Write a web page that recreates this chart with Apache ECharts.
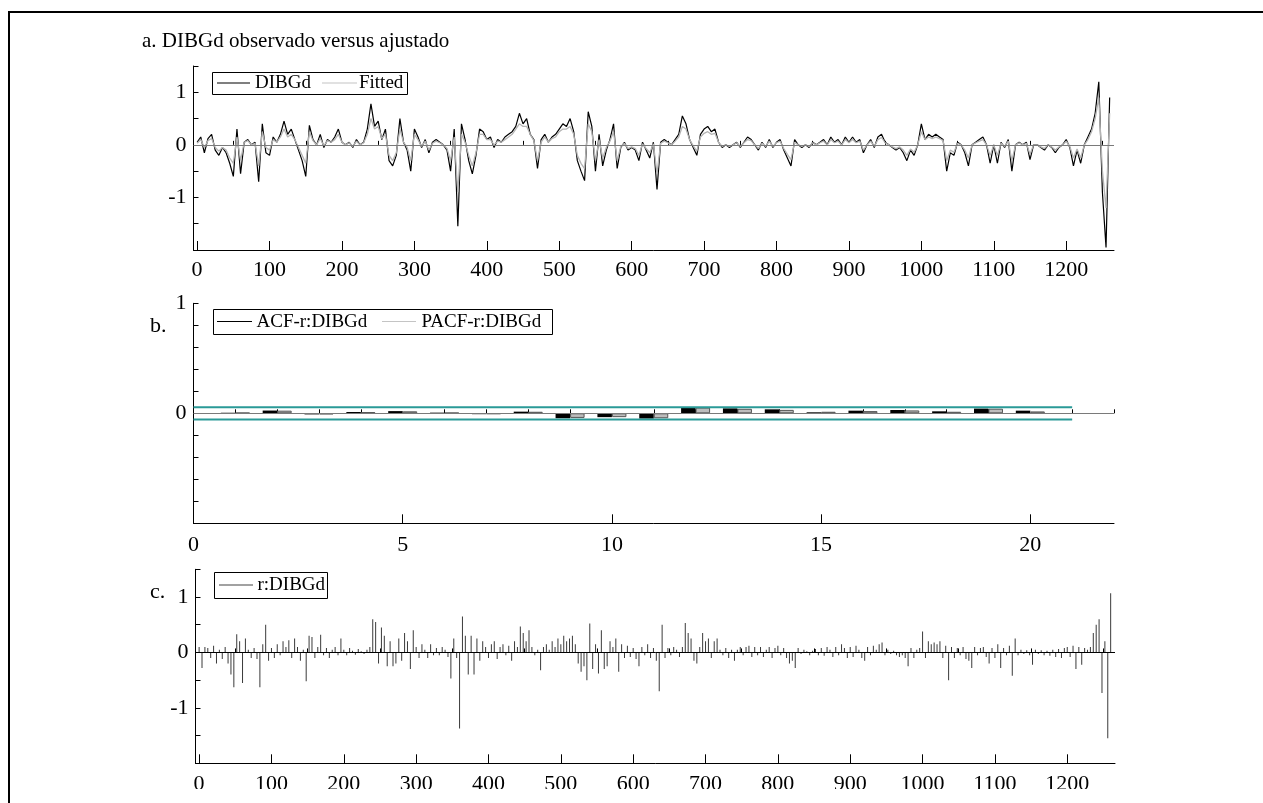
<!DOCTYPE html>
<html><head><meta charset="utf-8">
<script src="https://cdn.jsdelivr.net/npm/echarts@6/dist/echarts.min.js"></script>
<style>html,body{margin:0;padding:0;background:#fff}#c{width:1263px;height:803px}</style>
</head><body><div id="c"></div>
<script>
// ---- data ----
const obsStep = 5; // observation index spacing of the sampled values in panel a
const dibgd = [
 0.05,0.15,-0.15,0.12,0.2,-0.1,-0.2,-0.05,-0.15,-0.35,-0.6,0.3,-0.55,0.05,0.1,0.0,0.05,-0.7,0.4,-0.15,
 -0.2,0.15,0.05,0.2,0.45,0.2,0.3,0.1,-0.1,-0.3,-0.6,0.37,0.1,0.0,0.2,-0.05,0.1,0.05,0.15,0.3,
 0.05,0.0,0.05,-0.05,0.1,0.0,0.05,0.3,0.78,0.35,0.45,0.1,0.3,-0.3,-0.4,-0.2,0.5,0.05,-0.1,-0.5,
 0.3,0.15,-0.05,0.1,-0.15,0.05,0.1,0.05,0.0,-0.1,-0.5,0.3,-1.55,0.4,0.1,-0.3,-0.55,-0.2,0.3,0.25,
 0.1,0.15,-0.05,0.1,0.05,0.15,0.2,0.25,0.35,0.6,0.4,0.5,0.2,0.1,-0.45,0.1,0.2,0.05,0.15,0.2,
 0.3,0.4,0.35,0.5,0.25,-0.3,-0.5,-0.68,0.63,0.35,-0.5,0.2,-0.4,-0.1,0.1,0.4,-0.45,-0.05,0.05,-0.1,
 -0.05,-0.1,-0.3,0.05,-0.1,-0.25,0.05,-0.85,0.05,0.1,0.05,0.0,0.1,0.2,0.55,0.4,0.1,-0.05,-0.2,0.2,
 0.3,0.35,0.25,0.3,0.05,-0.05,0.0,-0.05,0.0,0.05,-0.05,0.05,0.15,0.1,0.0,-0.1,0.05,-0.05,0.1,-0.05,
 0.05,0.1,-0.1,-0.25,-0.4,0.1,0.0,-0.05,0.0,-0.05,0.05,0.0,0.05,0.1,0.0,0.15,0.05,0.1,0.0,0.15,
 0.05,0.15,0.05,0.1,-0.15,0.0,0.1,-0.05,0.15,0.2,0.05,0.0,-0.05,-0.1,-0.05,-0.15,-0.3,-0.1,-0.2,0.0,
 0.4,0.1,0.2,0.15,0.2,0.15,0.1,-0.5,-0.15,-0.2,0.05,0.0,-0.15,-0.4,0.0,0.05,0.1,0.15,0.0,-0.35,
 0.0,-0.35,0.05,-0.05,0.1,-0.5,0.0,0.05,0.0,0.05,-0.28,0.0,0.0,-0.05,-0.1,0.0,-0.05,-0.15,-0.05,0.0,
 0.1,-0.05,-0.4,-0.1,-0.35,0.0,0.15,0.3,0.6,1.2,-0.9,-1.95,0.9
];
const fitted = [
 0.03,0.1,-0.05,0.08,0.12,-0.05,-0.12,-0.05,-0.1,-0.25,-0.35,0.15,-0.3,0.05,0.08,0.0,0.03,-0.4,0.25,-0.05,
 -0.1,0.1,0.05,0.15,0.3,0.15,0.2,0.1,-0.05,-0.2,-0.35,0.25,0.08,0.0,0.12,-0.02,0.08,0.05,0.1,0.2,
 0.05,0.0,0.04,-0.03,0.07,0.0,0.04,0.2,0.5,0.3,0.35,0.12,0.2,-0.2,-0.3,-0.15,0.3,0.05,-0.05,-0.3,
 0.2,0.1,-0.03,0.07,-0.1,0.03,0.07,0.04,0.0,-0.07,-0.3,0.15,-0.9,0.2,0.05,-0.2,-0.4,-0.15,0.2,0.2,
 0.1,0.1,0.0,0.07,0.05,0.1,0.15,0.2,0.3,0.4,0.35,0.35,0.2,0.08,-0.3,0.05,0.15,0.05,0.12,0.15,
 0.25,0.3,0.3,0.35,0.2,-0.2,-0.35,-0.45,0.4,0.25,-0.3,0.1,-0.25,-0.05,0.07,0.25,-0.3,-0.03,0.03,-0.07,
 -0.04,-0.07,-0.2,0.02,-0.07,-0.15,0.02,-0.55,0.03,0.07,0.04,0.0,0.07,0.15,0.35,0.3,0.1,-0.02,-0.12,0.15,
 0.22,0.25,0.2,0.22,0.05,-0.03,0.0,-0.03,0.0,0.04,-0.03,0.04,0.1,0.08,0.0,-0.07,0.03,-0.03,0.07,-0.03,
 0.04,0.07,-0.07,-0.18,-0.28,0.05,0.0,-0.03,0.0,-0.03,0.04,0.0,0.04,0.07,0.0,0.1,0.04,0.07,0.0,0.1,
 0.04,0.1,0.04,0.07,-0.1,0.0,0.07,-0.03,0.1,0.14,0.04,0.0,-0.04,-0.07,-0.04,-0.1,-0.2,-0.08,-0.14,0.0,
 0.25,0.1,0.15,0.12,0.15,0.12,0.08,-0.3,-0.1,-0.14,0.03,0.0,-0.1,-0.25,0.0,0.04,0.07,0.1,0.0,-0.2,
 0.0,-0.2,0.03,-0.03,0.07,-0.3,0.0,0.04,0.0,0.03,-0.18,0.0,0.0,-0.04,-0.07,0.0,-0.04,-0.1,-0.04,0.0,
 0.07,-0.03,-0.25,-0.08,-0.25,0.0,0.1,0.25,0.5,0.9,-0.5,-1.2,0.6
];
const residStep = 4; // observation index spacing of the sampled residuals in panel c
const resid = [
 0.1,-0.28,0.1,0.08,-0.1,0.12,-0.2,0.05,-0.12,0.1,-0.2,-0.4,-0.63,0.33,0.2,-0.55,0.25,0.05,-0.1,0.08,-0.12,-0.63,0.15,0.5,-0.15,
 0.08,-0.1,0.15,-0.05,0.2,0.1,0.22,-0.1,0.25,0.1,-0.15,0.05,-0.52,0.3,0.28,-0.1,0.1,0.32,-0.05,0.08,-0.1,0.05,0.1,-0.05,0.25,
 0.05,-0.05,0.08,0.03,-0.04,0.06,0.02,-0.03,0.05,0.1,0.6,0.55,-0.2,0.45,0.3,-0.25,0.2,-0.25,-0.2,0.25,-0.15,0.35,0.2,-0.3,0.4,
 0.1,-0.1,0.15,0.05,-0.1,0.15,-0.05,0.08,-0.05,0.1,0.05,-0.08,-0.47,0.25,-0.1,-1.37,0.65,0.3,-0.4,0.3,-0.4,0.25,-0.15,0.2,0.1,
 -0.1,0.15,0.2,-0.12,0.1,0.15,-0.05,0.12,-0.15,0.2,0.1,0.47,0.35,0.2,0.4,0.1,-0.05,0.05,-0.32,0.1,0.15,0.05,0.2,0.1,0.25,
 0.15,0.3,0.2,0.25,0.3,0.15,-0.2,-0.35,-0.25,-0.5,0.52,-0.3,0.15,-0.38,0.4,-0.3,-0.25,0.2,0.1,0.25,-0.35,0.15,-0.1,0.12,-0.08,
 0.08,-0.12,-0.25,0.1,-0.05,0.15,-0.1,0.08,-0.15,-0.7,0.5,-0.1,0.08,-0.05,0.1,0.05,-0.08,0.1,0.53,0.35,0.25,-0.15,-0.2,0.1,0.35,
 0.2,0.25,-0.1,0.2,0.25,0.05,-0.05,0.08,-0.1,0.05,-0.15,0.05,0.1,-0.05,0.1,0.12,-0.08,0.1,-0.05,0.1,-0.08,0.05,0.1,-0.1,0.08,
 0.12,-0.05,0.08,-0.1,-0.2,-0.15,-0.28,0.08,-0.03,0.05,0.02,-0.05,0.03,0.06,-0.05,0.08,-0.06,0.1,0.05,-0.08,0.1,-0.05,0.15,0.08,-0.1,
 0.1,-0.08,0.12,0.05,-0.1,-0.15,0.1,-0.05,0.12,0.05,0.15,0.18,-0.05,0.05,-0.03,0.03,-0.05,-0.08,-0.05,-0.1,-0.25,0.08,-0.1,0.05,0.08,
 0.38,-0.1,0.2,0.15,0.18,0.15,0.2,-0.1,0.12,-0.5,0.1,-0.1,0.08,-0.05,0.1,-0.12,-0.15,-0.28,0.1,-0.05,0.08,0.1,-0.08,-0.2,0.08,
 -0.1,0.15,-0.28,0.08,-0.05,0.12,-0.42,0.25,-0.05,0.05,-0.03,0.04,-0.05,-0.22,0.05,-0.03,0.04,-0.05,0.03,-0.06,0.05,-0.08,0.06,-0.1,0.08,
 0.1,-0.08,0.12,-0.3,0.1,-0.22,0.08,0.05,0.1,0.35,0.5,0.6,-0.73,0.2,-1.55,1.07
];
const lags = [1,2,3,4,5,6,7,8,9,10,11,12,13,14,15,16,17,18,19,20];
const acf  = [0.005,0.025,-0.01,0.012,0.02,0.006,-0.008,0.015,-0.045,-0.035,-0.048,0.055,0.045,0.036,0.009,0.024,0.03,0.018,0.043,0.024];
const pacf = [0.005,0.024,-0.01,0.011,0.018,0.005,-0.007,0.014,-0.042,-0.035,-0.045,0.052,0.041,0.031,0.014,0.02,0.026,0.014,0.042,0.017];
const confBand = 0.056;
const confLagEnd = 21;
const obsMajorTicks = [0,100,200,300,400,500,600,700,800,900,1000,1100,1200];
const obsMinorTicks = [50,150,250,350,450,550,650,750,850,950,1050,1150,1250];
const lagMajorTicks = [0,5,10,15,20];
const lagMinorTicks = [1,2,3,4,6,7,8,9,11,12,13,14,16,17,18,19,21,22];
const yLabelsA = [-1,0,1];
const yLabelsB = [0,1];

// ---- chart ----
const FONT = '"Liberation Serif","Times New Roman",serif';
const chart = echarts.init(document.getElementById('c'), null, {renderer:'canvas'});
const obsData = dibgd.map((v,i)=>[i*obsStep, v]);
const fitData = fitted.map((v,i)=>[i*obsStep, v]);
const residData = resid.map((v,i)=>[Math.min(i*residStep, 1260), v]);

function yFmt(list){
  return v => { const r = Math.round(v*1000)/1000; return list.indexOf(r) >= 0 ? String(r) : ''; };
}
const axisLine = {show:true, onZero:false, lineStyle:{color:'#000', width:1}};
const lblStyle = {fontFamily:FONT, fontSize:22, color:'#000'};

function xMain(grid, min, max, ticks, margin){
  return {type:'value', gridIndex:grid, min:min, max:max, position:'bottom',
    axisLine:axisLine, splitLine:{show:false},
    axisTick:{show:true, inside:true, length:9, customValues:ticks, lineStyle:{color:'#000'}},
    axisLabel:Object.assign({show:true, customValues:ticks, margin:margin, formatter:v=>String(v)}, lblStyle)};
}
function xMinor(grid, min, max, ticks){
  return {type:'value', gridIndex:grid, min:min, max:max, position:'bottom',
    axisLine:{show:false}, splitLine:{show:false}, axisLabel:{show:false},
    axisTick:{show:true, inside:true, length:4, customValues:ticks, lineStyle:{color:'#000'}}};
}
function yAx(grid, min, max, interval, labels){
  return {type:'value', gridIndex:grid, min:min, max:max, interval:interval,
    axisLine:axisLine, splitLine:{show:false},
    axisTick:{show:true, inside:true, length:5, lineStyle:{color:'#000'}},
    axisLabel:Object.assign({formatter:yFmt(labels), margin:7}, lblStyle)};
}
function zeroLine(color){
  return {silent:true, symbol:['none','none'], label:{show:false}, animation:false,
    lineStyle:{color:color, width:1, type:'solid'}, emphasis:{disabled:true}, data:[{yAxis:0}]};
}
function txt(x,y,s,size){
  return {type:'text', x:x, y:y, silent:true, style:{text:s, font:size+'px '+FONT, fill:'#000', align:'left', verticalAlign:'middle'}};
}
function ln(x1,x2,y,color){
  return {type:'line', silent:true, shape:{x1:x1,y1:y,x2:x2,y2:y}, style:{stroke:color, lineWidth:1.2}};
}
function box(x1,y1,x2,y2){
  return {type:'rect', silent:true, shape:{x:x1+0.5,y:y1+0.5,width:x2-x1,height:y2-y1}, style:{fill:'#fff', stroke:'#000', lineWidth:1}};
}

const option = {
  animation:false,
  backgroundColor:'#fff',
  grid:[
    {left:193.5, top:66, width:920.5, height:184},
    {left:193.5, top:303.3, width:920.5, height:220},
    {left:195.5, top:569.3, width:919.5, height:194}
  ],
  xAxis:[
    xMain(0,-5,1266,obsMajorTicks,9), xMinor(0,-5,1266,obsMinorTicks),
    xMain(1,0,22,lagMajorTicks,11), xMinor(1,0,22,lagMinorTicks),
    xMain(2,-5,1266,obsMajorTicks,10), xMinor(2,-5,1266,obsMinorTicks)
  ],
  yAxis:[
    yAx(0,-2,1.5,0.5,yLabelsA),
    yAx(1,-1,1,0.2,yLabelsB),
    yAx(2,-2,1.5,0.5,yLabelsA)
  ],
  series:[
    {type:'line', name:'DIBGd', xAxisIndex:0, yAxisIndex:0, data:obsData, symbol:'none', showSymbol:false,
     lineStyle:{color:'#000', width:1.2}, markLine:zeroLine('#7a7a7a')},
    {type:'line', name:'Fitted', xAxisIndex:0, yAxisIndex:0, data:fitData, symbol:'none', showSymbol:false,
     lineStyle:{color:'#b4b4b4', width:1.3}},
    {type:'bar', name:'ACF-r:DIBGd', xAxisIndex:2, yAxisIndex:1, data:lags.map((l,i)=>[l,acf[i]]),
     barWidth:14.5, barGap:'0%', itemStyle:{color:'#000'}, markLine:zeroLine('#7a7a7a')},
    {type:'bar', name:'PACF-r:DIBGd', xAxisIndex:2, yAxisIndex:1, data:lags.map((l,i)=>[l,pacf[i]]),
     barWidth:14.5, barGap:'0%', itemStyle:{color:'#bdbdbd', borderColor:'#555', borderWidth:1}},
    {type:'line', xAxisIndex:2, yAxisIndex:1, data:[[0,confBand],[confLagEnd,confBand]], symbol:'none',
     lineStyle:{color:'#2a9a97', width:2}},
    {type:'line', xAxisIndex:2, yAxisIndex:1, data:[[0,-confBand],[confLagEnd,-confBand]], symbol:'none',
     lineStyle:{color:'#2a9a97', width:2}},
    {type:'bar', name:'r:DIBGd', xAxisIndex:4, yAxisIndex:2, data:residData, barWidth:1,
     itemStyle:{color:'#3a3a3a'}, markLine:zeroLine('#000')}
  ],
  graphic:[
    {type:'rect', silent:true, z:-10, shape:{x:9,y:12,width:1400,height:1000}, style:{fill:'none', stroke:'#000', lineWidth:2}},
    txt(142,41.5,'a. DIBGd observado versus ajustado',21),
    box(212,72,407,94), ln(217,250,83,'#000'), txt(255,83.5,'DIBGd',19), ln(322,357,83,'#c4c4c4'), txt(359,83.5,'Fitted',19),
    txt(150,326,'b.',22),
    box(213,309,552,334), ln(217,252,321.5,'#000'), txt(256.5,322,'ACF-r:DIBGd',19), ln(382,416,321.5,'#c4c4c4'), txt(421.5,322,'PACF-r:DIBGd',19),
    txt(150,592,'c.',22),
    box(214,572,327,598), ln(219,253,585,'#444'), txt(257.5,585.5,'r:DIBGd',19),
    {type:'rect', silent:true, z:100, shape:{x:11,y:789,width:1260,height:20}, style:{fill:'#fff'}}
  ]
};
chart.setOption(option);
</script>
</body></html>
